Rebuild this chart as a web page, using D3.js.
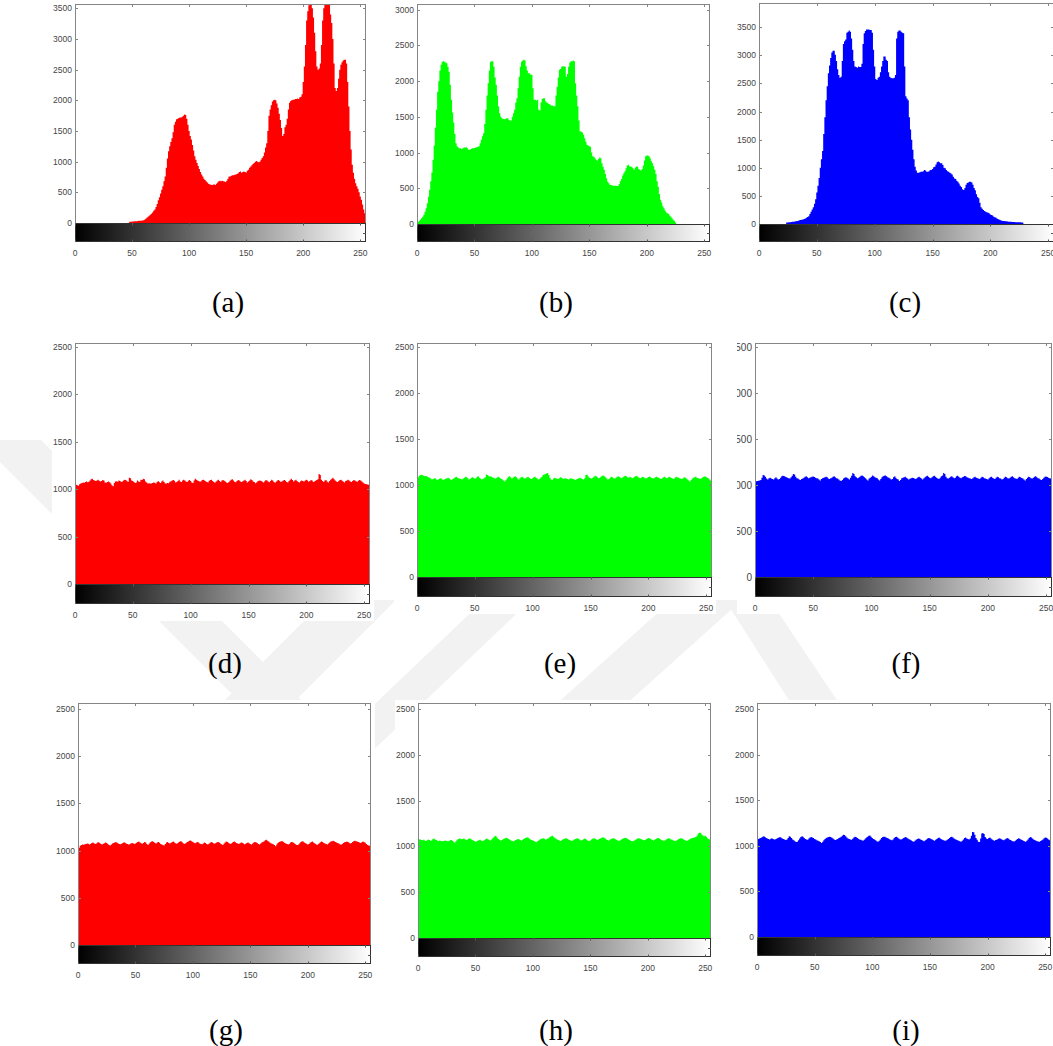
<!DOCTYPE html>
<meta charset="utf-8">
<style>
  body { margin: 0; background: #fff; }
  svg text { font-family: "Liberation Sans", Arial, sans-serif; }
  svg text.cap { font-family: "Liberation Serif", "Times New Roman", serif; }
</style>
<div id="chart"></div>
<script src="https://d3js.org/d3.v7.min.js"></script>
<script>
const width = 1053, height = 1046;

// ---- data: 256-bin histograms ----
const xTicks = [0, 50, 100, 150, 200, 250];
const yTicksA = [0, 500, 1000, 1500, 2000, 2500, 3000, 3500];
const yTicksB = [0, 500, 1000, 1500, 2000, 2500, 3000];
const yTicksC = [0, 500, 1000, 1500, 2000, 2500, 3000, 3500];
const yTicksFlat = [0, 500, 1000, 1500, 2000, 2500];
const captions = ["(a)", "(b)", "(c)", "(d)", "(e)", "(f)", "(g)", "(h)", "(i)"];

const redA = [
  0,0,0,0,0,0,0,0,0,0, 0,0,0,0,0,0,0,0,0,0,
  0,0,0,0,0,0,0,0,0,0, 0,0,0,0,0,0,0,0,0,0,
  0,0,0,0,0,0,0,0,20,22, 25,25,28,30,30,32,35,35,38,40,
  45,55,70,85,100,120,135,150,170,200, 220,260,310,370,420,480,540,600,680,760,
  900,1050,1170,1250,1320,1380,1480,1600,1650,1690, 1700,1710,1720,1720,1730,1750,1770,1760,1700,1600,
  1500,1420,1360,1270,1180,1090,1030,980,930,880, 830,790,760,720,700,680,660,640,630,625,
  620,625,630,620,640,660,680,690,680,690, 680,675,670,690,720,760,760,770,780,780,
  785,790,800,810,830,840,820,830,840,830, 825,850,870,900,920,940,960,980,1000,1010,
  1000,990,1000,1030,1060,1090,1150,1230,1300,1500, 1750,1850,1920,1980,2000,2010,2000,1950,1880,1780,
  1680,1550,1420,1450,1560,1600,1700,1850,1960,1990, 2000,2010,2010,2020,2020,2030,2020,2050,2060,2100,
  2300,2550,2900,3300,3450,3550,3570,3570,3500,3350, 3100,2800,2550,2500,2520,2600,2900,3300,3500,3570,
  3570,3570,3570,3570,3400,3260,3000,2600,2200,2150, 2200,2350,2500,2580,2620,2650,2660,2660,2600,2300,
  1900,1500,1200,950,820,720,650,600,560,500, 430,380,300,220,160,110
];

const greenB = [
  20,30,45,60,80,100,130,170,220,290, 380,480,600,720,900,1100,1350,1600,1850,2000,
  2150,2230,2270,2280,2270,2260,2250,2200,2130,1950, 1740,1560,1420,1260,1130,1090,1070,1060,1060,1050,
  1060,1070,1070,1075,1060,1040,1040,1050,1060,1060, 1065,1070,1075,1080,1090,1130,1180,1230,1270,1400,
  1600,1800,1970,2150,2270,2280,2280,2200,2050,1950, 1800,1650,1550,1500,1480,1470,1465,1470,1480,1480,
  1460,1450,1450,1500,1550,1600,1700,1760,1900,2060, 2200,2270,2290,2300,2290,2210,2150,2110,2110,2090,
  2090,1900,1740,1740,1730,1740,1600,1590,1700,1750, 1760,1760,1720,1700,1690,1680,1670,1660,1660,1650,
  1650,1800,1920,2050,2160,2170,2200,2210,2210,2200, 2060,2100,2200,2260,2280,2280,2290,2280,1970,1800,
  1650,1450,1300,1290,1280,1250,1200,1150,1110,1100, 1090,1080,1000,950,940,920,900,890,910,930,
  920,850,800,760,700,640,590,570,550,545, 540,535,535,535,532,532,560,600,630,680,
  710,740,780,820,830,810,800,800,780,760, 790,805,800,770,760,750,770,820,890,950,
  960,960,950,920,880,850,810,760,700,600, 520,420,340,300,250,220,190,160,150,140,
  120,100,80,60,45,20,0,0,0,0, 0,0,0,0,0,0,0,0,0,0,
  0,0,0,0,0,0,0,0,0,0, 0,0,0,0,0,0
];

const blueC = [
  0,0,0,0,0,0,0,0,0,0, 0,0,0,0,0,0,0,0,0,0,
  0,0,0,0,25,28,30,32,35,38, 40,45,50,55,60,65,70,75,80,90,
  100,110,125,140,180,220,260,300,360,440, 560,680,820,1000,1150,1300,1600,1900,2200,2450,
  2680,2820,2950,3050,3080,3080,3010,2900,2750,2650, 2600,2620,2900,3200,3250,3280,3400,3420,3440,3420,
  3300,3100,2900,2800,2790,2780,2800,2790,2790,2850, 3200,3390,3430,3460,3460,3460,3450,3450,3400,3100,
  2800,2580,2560,2600,2620,2700,2800,2900,2980,2980, 2920,2900,2700,2620,2600,2590,2590,2600,2650,3300,
  3420,3440,3440,3420,3400,3390,2800,2270,2230,2200, 1900,1680,1500,1320,1150,1020,950,910,910,920,
  930,930,940,960,950,930,930,940,960,960, 980,1010,1020,1060,1100,1110,1100,1080,1080,1050,
  1000,990,960,940,930,910,900,880,840,810, 800,770,750,720,680,660,620,605,640,700,
  730,740,750,750,740,700,640,600,530,480, 460,380,300,270,250,230,220,210,200,190,
  170,160,150,130,120,110,95,85,75,65, 60,55,52,50,48,45,42,40,38,36,
  35,34,33,32,31,30,30,28,25,0, 0,0,0,0,0,0,0,0,0,0,
  0,0,0,0,0,0,0,0,0,0, 0,0,0,0,0,0
];

const redD = [
  1050,1045,1040,1035,1050,1060,1065,1070,1068,1075,1080,1072,1078,1090,1105,1110,
  1095,1090,1085,1092,1098,1088,1080,1085,1095,1090,1070,1068,1075,1080,1072,1060,
  1040,1030,1065,1080,1082,1078,1090,1085,1075,1080,1090,1100,1095,1082,1078,1120,
  1115,1090,1085,1075,1065,1070,1090,1080,1075,1100,1095,1110,1105,1080,1070,1060,
  1062,1058,1060,1065,1070,1068,1060,1075,1085,1072,1065,1080,1090,1075,1060,1058,
  1065,1062,1078,1082,1090,1095,1088,1070,1075,1085,1100,1080,1075,1092,1098,1090,
  1080,1075,1088,1095,1085,1070,1065,1090,1110,1100,1090,1085,1078,1082,1095,1100,
  1090,1082,1075,1070,1088,1095,1100,1085,1075,1068,1080,1092,1098,1085,1075,1090,
  1095,1088,1080,1070,1065,1075,1088,1100,1105,1090,1078,1072,1085,1095,1090,1080,
  1075,1082,1090,1098,1085,1070,1080,1090,1105,1095,1080,1075,1062,1070,1082,1088,
  1090,1085,1078,1070,1082,1095,1090,1080,1072,1085,1098,1090,1075,1068,1080,1092,
  1095,1085,1075,1082,1090,1095,1088,1075,1070,1085,1100,1110,1095,1080,1090,1098,
  1085,1075,1070,1082,1090,1085,1080,1092,1100,1090,1078,1085,1095,1090,1075,1080,
  1088,1095,1105,1160,1150,1100,1085,1075,1090,1095,1080,1070,1085,1100,1110,1120,
  1105,1090,1080,1075,1085,1095,1100,1088,1078,1070,1085,1092,1098,1090,1080,1075,
  1085,1095,1090,1082,1078,1088,1095,1090,1080,1070,1060,1055,1050,1048,1045,1045
];

const greenE = [
  1070,1085,1100,1110,1112,1108,1100,1095,1098,1090,1085,1080,1070,1060,1065,1075,
  1070,1060,1055,1065,1075,1070,1060,1058,1062,1070,1075,1080,1070,1060,1055,1065,
  1075,1085,1090,1080,1075,1070,1065,1060,1070,1080,1090,1085,1075,1060,1065,1080,
  1085,1080,1070,1075,1090,1095,1080,1070,1060,1065,1075,1085,1115,1110,1100,1090,
  1095,1085,1080,1075,1070,1080,1090,1085,1075,1065,1060,1050,1040,1055,1075,1090,
  1095,1085,1070,1080,1090,1095,1085,1070,1060,1075,1085,1090,1080,1070,1075,1085,
  1090,1080,1070,1065,1075,1085,1090,1080,1070,1060,1065,1080,1090,1110,1115,1120,
  1125,1130,1110,1080,1060,1055,1070,1080,1075,1070,1065,1075,1085,1080,1070,1068,
  1075,1070,1065,1060,1068,1075,1070,1065,1060,1058,1062,1068,1075,1080,1072,1065,
  1060,1075,1110,1115,1095,1080,1075,1070,1080,1090,1100,1095,1085,1075,1080,1090,
  1100,1105,1095,1085,1070,1060,1065,1080,1090,1085,1075,1070,1080,1090,1095,1088,
  1080,1075,1085,1095,1100,1095,1085,1080,1090,1085,1075,1080,1090,1095,1100,1090,
  1080,1075,1082,1090,1085,1075,1070,1080,1088,1092,1085,1078,1070,1075,1085,1090,
  1085,1080,1070,1065,1075,1085,1090,1080,1075,1082,1090,1085,1078,1070,1065,1080,
  1090,1085,1080,1075,1070,1065,1075,1085,1080,1070,1060,1050,1040,1055,1070,1080,
  1085,1090,1080,1075,1070,1068,1075,1085,1090,1095,1088,1080,1075,1060,1050,1050
];

const blueF = [
  1040,1042,1045,1048,1050,1055,1080,1110,1105,1090,1070,1060,1075,1080,1072,1065,
  1060,1075,1085,1070,1060,1065,1080,1095,1100,1098,1090,1085,1080,1075,1070,1085,
  1100,1120,1115,1090,1075,1070,1060,1055,1065,1070,1080,1090,1095,1085,1075,1080,
  1085,1090,1092,1088,1080,1075,1070,1060,1050,1065,1075,1080,1085,1090,1085,1070,
  1065,1075,1080,1090,1095,1085,1075,1070,1060,1050,1045,1055,1070,1080,1085,1080,
  1070,1060,1080,1100,1130,1120,1095,1085,1075,1080,1090,1100,1105,1095,1085,1075,
  1060,1050,1070,1080,1090,1105,1095,1085,1080,1075,1060,1050,1065,1085,1095,1100,
  1105,1095,1085,1080,1070,1060,1065,1085,1095,1080,1065,1060,1045,1055,1075,1080,
  1085,1090,1080,1070,1060,1068,1075,1080,1078,1070,1065,1075,1085,1090,1080,1070,
  1060,1075,1085,1095,1100,1090,1080,1075,1085,1095,1100,1090,1080,1070,1065,1080,
  1095,1105,1130,1120,1090,1075,1070,1080,1090,1095,1085,1075,1080,1095,1100,1090,
  1080,1075,1085,1090,1098,1095,1085,1080,1075,1070,1065,1075,1085,1090,1080,1075,
  1070,1065,1080,1090,1085,1075,1070,1065,1060,1075,1085,1090,1080,1070,1065,1080,
  1090,1085,1075,1070,1060,1065,1080,1090,1085,1075,1070,1080,1090,1095,1085,1075,
  1070,1065,1080,1090,1085,1078,1070,1060,1050,1065,1080,1090,1085,1075,1070,1080,
  1090,1095,1085,1075,1070,1060,1055,1065,1080,1090,1092,1088,1080,1075,1070,1070
];

const redG = [
  1020,1030,1050,1060,1065,1062,1068,1070,1075,1072,1065,1070,1080,1085,1078,1070,
  1075,1085,1088,1080,1070,1065,1072,1078,1085,1080,1070,1060,1055,1065,1075,1080,
  1085,1090,1082,1075,1070,1068,1072,1080,1088,1082,1075,1070,1065,1068,1075,1080,
  1078,1070,1075,1082,1090,1095,1085,1078,1072,1080,1090,1085,1070,1060,1075,1088,
  1095,1098,1090,1080,1075,1085,1090,1082,1070,1065,1060,1055,1070,1085,1090,1080,
  1075,1082,1090,1095,1085,1078,1072,1080,1090,1100,1095,1085,1075,1070,1080,1090,
  1095,1105,1108,1100,1090,1082,1078,1085,1092,1085,1075,1070,1068,1075,1085,1080,
  1070,1065,1072,1082,1090,1085,1078,1072,1080,1088,1092,1085,1075,1068,1060,1072,
  1085,1095,1090,1082,1075,1070,1080,1090,1095,1088,1080,1075,1070,1078,1085,1082,
  1075,1068,1072,1080,1085,1078,1070,1065,1075,1085,1092,1088,1080,1070,1065,1075,
  1085,1090,1100,1110,1115,1105,1095,1085,1078,1072,1068,1060,1045,1065,1080,1090,
  1095,1100,1098,1090,1080,1075,1070,1065,1072,1085,1092,1088,1080,1070,1062,1058,
  1065,1078,1090,1098,1095,1085,1078,1072,1065,1070,1082,1090,1095,1085,1078,1070,
  1060,1068,1078,1088,1095,1090,1080,1075,1070,1065,1075,1085,1095,1100,1105,1098,
  1090,1085,1080,1075,1068,1062,1070,1080,1088,1092,1095,1090,1082,1075,1080,1090,
  1098,1105,1100,1095,1090,1085,1080,1088,1095,1090,1082,1070,1060,1055,1050,1045
];

const greenH = [
  1075,1078,1075,1070,1068,1072,1065,1060,1068,1075,1070,1062,1068,1080,1085,1075,
  1070,1062,1058,1065,1060,1055,1058,1062,1065,1060,1055,1060,1068,1070,1062,1050,
  1040,1055,1070,1080,1085,1082,1078,1080,1085,1078,1070,1075,1082,1088,1080,1072,
  1068,1060,1050,1055,1062,1068,1072,1065,1058,1062,1070,1080,1085,1078,1070,1065,
  1075,1090,1100,1115,1110,1095,1080,1072,1065,1070,1078,1085,1090,1095,1088,1080,
  1072,1065,1060,1055,1062,1070,1075,1080,1078,1070,1065,1072,1080,1090,1095,1100,
  1095,1085,1075,1070,1065,1060,1050,1045,1055,1065,1075,1080,1085,1088,1082,1075,
  1078,1085,1095,1105,1110,1115,1105,1095,1085,1078,1070,1065,1060,1068,1075,1080,
  1085,1090,1082,1075,1070,1065,1060,1068,1075,1080,1085,1088,1080,1072,1065,1070,
  1078,1085,1080,1070,1062,1058,1065,1075,1082,1088,1085,1078,1070,1075,1082,1090,
  1095,1100,1095,1085,1075,1070,1065,1072,1080,1085,1090,1085,1078,1070,1065,1060,
  1068,1075,1082,1090,1095,1092,1085,1078,1070,1065,1060,1055,1062,1070,1078,1085,
  1090,1085,1080,1075,1070,1068,1072,1080,1088,1092,1085,1078,1070,1065,1072,1080,
  1088,1092,1085,1078,1070,1065,1062,1068,1075,1082,1088,1085,1078,1072,1068,1062,
  1060,1065,1072,1080,1085,1090,1085,1078,1070,1065,1062,1068,1075,1082,1088,1092,
  1095,1100,1105,1120,1140,1150,1148,1130,1120,1110,1115,1105,1090,1080,1075,1075
];

const blueI = [
  1070,1075,1080,1085,1090,1100,1105,1095,1085,1080,1075,1070,1078,1082,1075,1068,
  1072,1078,1085,1090,1095,1088,1080,1075,1068,1062,1070,1085,1105,1100,1085,1070,
  1060,1050,1040,1045,1060,1080,1095,1105,1098,1085,1075,1070,1065,1080,1090,1095,
  1090,1085,1075,1068,1060,1055,1050,1040,1030,1045,1060,1075,1085,1090,1095,1098,
  1095,1088,1080,1070,1062,1068,1075,1085,1090,1100,1110,1120,1118,1105,1090,1080,
  1075,1070,1065,1078,1090,1098,1095,1085,1078,1070,1065,1060,1055,1065,1080,1090,
  1100,1110,1112,1100,1085,1075,1068,1060,1050,1045,1055,1070,1085,1095,1100,1098,
  1090,1085,1080,1072,1065,1060,1070,1085,1095,1100,1090,1080,1072,1068,1075,1085,
  1090,1095,1088,1080,1072,1065,1058,1050,1045,1055,1065,1075,1080,1078,1070,1062,
  1055,1050,1060,1070,1080,1085,1082,1075,1068,1060,1055,1065,1075,1085,1090,1080,
  1072,1065,1060,1055,1058,1065,1075,1085,1095,1100,1090,1080,1072,1065,1060,1055,
  1050,1045,1055,1070,1085,1090,1080,1075,1070,1080,1110,1150,1148,1120,1085,1065,
  1045,1040,1080,1135,1140,1130,1095,1080,1075,1085,1090,1080,1070,1060,1055,1062,
  1065,1075,1082,1080,1072,1065,1060,1068,1078,1085,1080,1070,1062,1055,1050,1048,
  1055,1065,1075,1082,1078,1070,1062,1055,1050,1045,1055,1070,1085,1095,1090,1080,
  1070,1062,1055,1050,1048,1045,1052,1060,1070,1082,1090,1088,1080,1070,1060,1060
];

// ---- layout (pixel boxes of each sub-figure) ----
const panels = [
  { values: redA,   color: "#ff0000", ymax: 3570, yticks: yTicksA,    left: 75,  right: 366,  top: 4,   zero: 223, cbBottom: 242, capX: 228, capY: 312 },
  { values: greenB, color: "#00ff00", ymax: 3080, yticks: yTicksB,    left: 417, right: 710,  top: 4,   zero: 224, cbBottom: 242, capX: 556, capY: 312 },
  { values: blueC,  color: "#0000ff", ymax: 3930, yticks: yTicksC,    left: 759, right: 1054, top: 3,   zero: 224, cbBottom: 242, capX: 905, capY: 312 },
  { values: redD,   color: "#ff0000", ymax: 2540, yticks: yTicksFlat, left: 75,  right: 370,  top: 343, zero: 584, cbBottom: 604, capX: 225, capY: 673 },
  { values: greenE, color: "#00ff00", ymax: 2545, yticks: yTicksFlat, left: 417, right: 712,  top: 343, zero: 577, cbBottom: 597, capX: 560, capY: 673 },
  { values: blueF,  color: "#0000ff", ymax: 2545, yticks: yTicksFlat, left: 755, right: 1052, top: 343, zero: 577, cbBottom: 597, capX: 906, capY: 673, clipLeft: 737 },
  { values: redG,   color: "#ff0000", ymax: 2563, yticks: yTicksFlat, left: 78,  right: 371,  top: 703, zero: 945, cbBottom: 964, capX: 226, capY: 1040 },
  { values: greenH, color: "#00ff00", ymax: 2565, yticks: yTicksFlat, left: 418, right: 711,  top: 703, zero: 938, cbBottom: 957, capX: 556, capY: 1040 },
  { values: blueI,  color: "#0000ff", ymax: 2565, yticks: yTicksFlat, left: 757, right: 1051, top: 703, zero: 937, cbBottom: 956, capX: 906, capY: 1040 }
];

// faint background watermark
const watermark = [
  [[-22, 440], [41, 440], [361, 760], [298, 760]],
  [[325, 600], [396, 600], [236, 760], [165, 760]],
  [[484, 600], [531, 600], [363, 760], [316, 760]],
  [[672, 600], [742, 600], [564, 760], [494, 760]],
  [[725, 600], [770, 600], [877, 760], [827, 760]]
];

const svg = d3.select("#chart").append("svg")
    .attr("width", width)
    .attr("height", height);

svg.append("rect").attr("width", width).attr("height", height).attr("fill", "#fff");

svg.append("g")
    .selectAll("polygon")
    .data(watermark)
    .join("polygon")
    .attr("points", d => d.map(p => p.join(",")).join(" "))
    .attr("fill", "#f2f2f2");

const defs = svg.append("defs");
const boxColor = "#858585";
const textColor = "#454545";
const tickLen = 3;

panels.forEach((p, k) => {
    const x = d3.scaleLinear().domain([0, 255]).range([p.left, p.right]);
    const y = d3.scaleLinear().domain([0, p.ymax]).range([p.zero, p.top]);

    // panel image area (white, hides watermark)
    const bgLeft = p.clipLeft || (p.left - 23);
    const bgTop = p.top - 3, bgW = p.right + 4 - bgLeft, bgH = p.cbBottom + 17 - bgTop;
    defs.append("clipPath").attr("id", "panel" + k)
      .append("rect").attr("x", bgLeft).attr("y", bgTop).attr("width", bgW).attr("height", bgH);
    defs.append("clipPath").attr("id", "plot" + k)
      .append("rect")
        .attr("x", p.left).attr("y", p.top)
        .attr("width", p.right - p.left).attr("height", p.zero - p.top);

    const g = svg.append("g").attr("clip-path", `url(#panel${k})`);
    g.append("rect")
        .attr("x", bgLeft).attr("y", bgTop).attr("width", bgW).attr("height", bgH)
        .attr("fill", "#fff");

    // histogram, one step per bin
    const area = d3.area()
        .curve(d3.curveStep)
        .x((d, i) => x(i))
        .y0(p.zero)
        .y1(d => y(Math.min(d, p.ymax)));
    const padded = [p.values[0]].concat(p.values, [p.values[255]]);
    g.append("path")
        .attr("clip-path", `url(#plot${k})`)
        .datum(p.values)
        .attr("d", d3.area()
            .curve(d3.curveStep)
            .x((d, i) => x(i - 1))
            .y0(p.zero)
            .y1(d => y(Math.min(d, p.ymax)))(padded))
        .attr("fill", p.color);

    // histogram axes box
    g.append("rect")
        .attr("x", p.left + 0.5).attr("y", p.top + 0.5)
        .attr("width", p.right - p.left - 1).attr("height", p.zero - p.top)
        .attr("fill", "none").attr("stroke", boxColor).attr("stroke-width", 1);

    // y ticks (inward both sides) and labels
    const yt = g.append("g");
    yt.selectAll("line.l").data(p.yticks).join("line").attr("class", "l")
        .attr("x1", p.left).attr("x2", p.left + tickLen)
        .attr("y1", d => Math.round(y(d)) + 0.5).attr("y2", d => Math.round(y(d)) + 0.5)
        .attr("stroke", boxColor);
    yt.selectAll("line.r").data(p.yticks).join("line").attr("class", "r")
        .attr("x1", p.right - tickLen).attr("x2", p.right)
        .attr("y1", d => Math.round(y(d)) + 0.5).attr("y2", d => Math.round(y(d)) + 0.5)
        .attr("stroke", boxColor);
    yt.selectAll("text").data(p.yticks).join("text")
        .attr("x", p.left - 3)
        .attr("y", d => y(d))
        .attr("dy", "0.35em")
        .attr("text-anchor", "end")
        .attr("font-size", p.clipLeft ? 10 : 8.5)
        .attr("fill", textColor)
        .text(d => d);

    // top ticks
    g.append("g").selectAll("line").data(xTicks.filter(t => t > 0)).join("line")
        .attr("x1", d => Math.round(x(d)) + 0.5).attr("x2", d => Math.round(x(d)) + 0.5)
        .attr("y1", p.top).attr("y2", p.top + tickLen)
        .attr("stroke", boxColor);

    // gray colour bar under the histogram
    const grad = defs.append("linearGradient").attr("id", "grad" + k)
        .attr("gradientUnits", "userSpaceOnUse")
        .attr("x1", x(0)).attr("x2", x(255)).attr("y1", 0).attr("y2", 0);
    grad.append("stop").attr("offset", 0).attr("stop-color", "#000");
    grad.append("stop").attr("offset", 1).attr("stop-color", "#fff");

    g.append("rect")
        .attr("x", p.left + 0.5).attr("y", p.zero + 0.5)
        .attr("width", p.right - p.left - 1).attr("height", p.cbBottom - p.zero - 1)
        .attr("fill", `url(#grad${k})`)
        .attr("stroke", "#333").attr("stroke-width", 1);

    const cbt = g.append("g");
    cbt.selectAll("line.t").data(xTicks).join("line").attr("class", "t")
        .attr("x1", d => Math.round(x(d)) + 0.5).attr("x2", d => Math.round(x(d)) + 0.5)
        .attr("y1", p.zero).attr("y2", p.zero + 2.5)
        .attr("stroke", "#555");
    cbt.selectAll("line.b").data(xTicks).join("line").attr("class", "b")
        .attr("x1", d => Math.round(x(d)) + 0.5).attr("x2", d => Math.round(x(d)) + 0.5)
        .attr("y1", p.cbBottom - 2.5).attr("y2", p.cbBottom)
        .attr("stroke", "#555");
    cbt.append("line")
        .attr("x1", p.right - 3).attr("x2", p.right)
        .attr("y1", Math.round((p.zero + p.cbBottom) / 2) + 0.5)
        .attr("y2", Math.round((p.zero + p.cbBottom) / 2) + 0.5)
        .attr("stroke", "#555");

    g.append("g").selectAll("text").data(xTicks).join("text")
        .attr("x", d => x(d))
        .attr("y", p.cbBottom + 11)
        .attr("dy", "0.35em")
        .attr("text-anchor", "middle")
        .attr("font-size", 8.5)
        .attr("fill", textColor)
        .text(d => d);

    // caption
    svg.append("text")
        .attr("class", "cap")
        .attr("x", p.capX)
        .attr("y", p.capY)
        .attr("text-anchor", "middle")
        .attr("font-size", 29)
        .attr("fill", "#000")
        .text(captions[k]);
});
</script>
